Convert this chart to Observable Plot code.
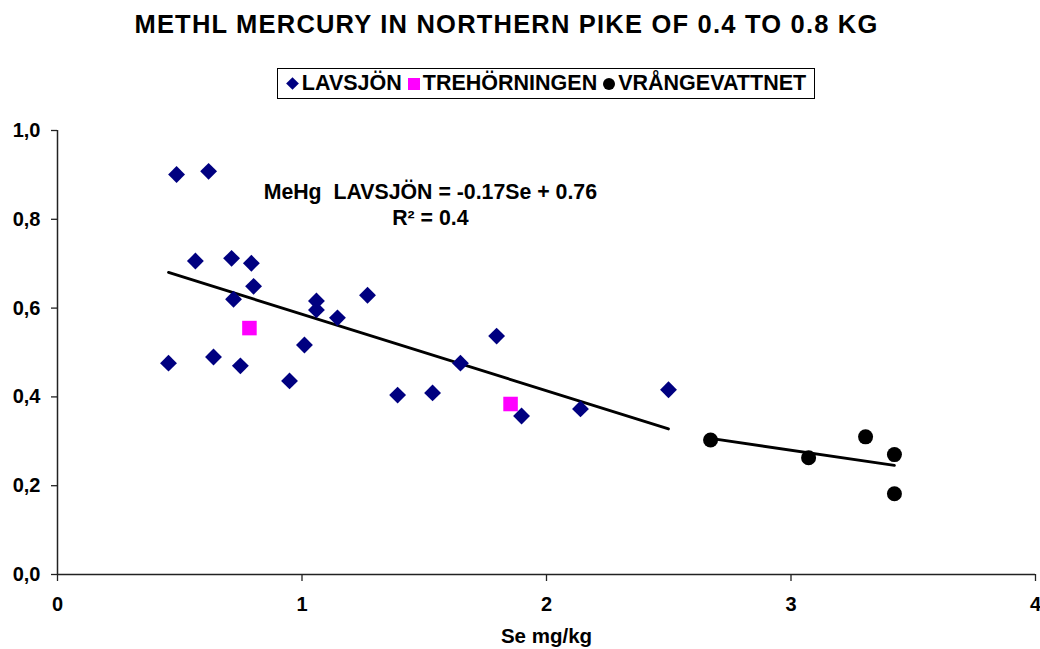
<!DOCTYPE html>
<html>
<head>
<meta charset="utf-8">
<script src="https://cdn.jsdelivr.net/npm/d3@7"></script>
<script src="https://cdn.jsdelivr.net/npm/@observablehq/plot@0.6"></script>
<style>
  html, body { margin: 0; padding: 0; background: #fff; }
  body { width: 1040px; height: 649px; position: relative; overflow: hidden;
         font-family: "Liberation Sans", Arial, sans-serif; font-weight: bold; color: #000; }
  #title { position: absolute; left: 0; top: 12px; width: 1013px; text-align: center;
           font-size: 25.5px; line-height: 25px; letter-spacing: 1.2px; white-space: nowrap; }
  #legend { position: absolute; left: 277px; top: 68px; width: 538px; height: 31px; box-sizing: border-box;
            border: 1.5px solid #000; display: flex; align-items: center; justify-content: center;
            font-size: 21.5px; white-space: nowrap; }
  #legend .item { display: flex; align-items: center; margin: 0 3px; }
  #legend .sym { display: inline-block; margin-right: 3px; }
  #legend .diamond { width: 9px; height: 9px; background: #000080; transform: rotate(45deg); margin-left: 2px; margin-right: 5px; }
  #legend .square { width: 12px; height: 12px; background: #ff00ff; }
  #legend .circle { width: 12px; height: 12px; background: #000; border-radius: 50%; }
  #chart { position: absolute; left: 0; top: 110px; }
</style>
</head>
<body>
<div id="title"></div>
<div id="legend"></div>
<div id="chart"></div>
<script>
// ---- data ----
const titleText = "METHL MERCURY IN NORTHERN PIKE OF 0.4 TO 0.8 KG";
const seriesNames = ["LAVSJÖN", "TREHÖRNINGEN", "VRÅNGEVATTNET"];
const xLabel = "Se mg/kg";
const annotation = "MeHg\u00a0 LAVSJÖN = -0.17Se + 0.76\nR² = 0.4";

const xTicks = [0, 1, 2, 3, 4];
const yTicks = [0, 0.2, 0.4, 0.6, 0.8, 1.0];

const lavsjonSe   = [0.487, 0.618, 0.564, 0.712, 0.793, 0.802, 0.720, 1.059, 1.059, 1.145, 1.268, 1.010,
                     0.454, 0.638, 0.748, 0.949, 1.391, 1.534, 1.648, 1.796, 1.898, 2.139, 2.499];
const lavsjonMeHg = [0.901, 0.908, 0.706, 0.712, 0.701, 0.649, 0.620, 0.616, 0.596, 0.578, 0.629, 0.517,
                     0.476, 0.490, 0.470, 0.436, 0.404, 0.409, 0.476, 0.537, 0.357, 0.373, 0.416];

const trehorningenSe   = [0.785, 1.853];
const trehorningenMeHg = [0.555, 0.384];

const vrangevattnetSe   = [2.671, 3.072, 3.305, 3.423, 3.423];
const vrangevattnetMeHg = [0.303, 0.263, 0.310, 0.270, 0.182];

// ---- build tables ----
const toRows = (xs, ys) => xs.map((x, i) => ({x, y: ys[i]}));
const lav = toRows(lavsjonSe, lavsjonMeHg);
const tre = toRows(trehorningenSe, trehorningenMeHg);
const vra = toRows(vrangevattnetSe, vrangevattnetMeHg);

// ---- title & legend ----
document.getElementById("title").textContent = titleText;
const legend = document.getElementById("legend");
const symClasses = ["diamond", "square", "circle"];
seriesNames.forEach((name, i) => {
  const item = document.createElement("span");
  item.className = "item";
  const s = document.createElement("span");
  s.className = "sym " + symClasses[i];
  const t = document.createElement("span");
  t.textContent = name;
  item.appendChild(s); item.appendChild(t);
  legend.appendChild(item);
});

// ---- chart ----
const chart = Plot.plot({
  width: 1040,
  height: 539,
  marginTop: 20,
  marginBottom: 75,
  marginLeft: 57,
  marginRight: 5,
  style: {fontFamily: '"Liberation Sans", Arial, sans-serif', fontWeight: "bold", fontSize: "20px", color: "#000", background: "#fff"},
  x: {domain: [0, 4]},
  y: {domain: [0, 1]},
  marks: [
    Plot.axisY({ticks: yTicks, tickSize: 6, tickPadding: 11, tickFormat: d => d.toFixed(1).replace(".", ","),
                label: null, fontSize: 20, fontWeight: "bold", stroke: "#222", strokeWidth: 1.3}),
    Plot.axisX({ticks: xTicks, tickSize: 7, tickPadding: 15, tickFormat: d => String(d),
                label: null, fontSize: 20, fontWeight: "bold", stroke: "#222", strokeWidth: 1.3}),
    Plot.ruleX([0], {stroke: "#222", strokeWidth: 1.5}),
    Plot.ruleY([0], {stroke: "#222", strokeWidth: 1.5}),
    Plot.linearRegressionY(lav, {x: "x", y: "y", ci: 0, stroke: "#000", strokeWidth: 2.8}),
    Plot.linearRegressionY(vra, {x: "x", y: "y", ci: 0, stroke: "#000", strokeWidth: 2.8}),
    Plot.dot(lav, {x: "x", y: "y", symbol: "diamond2", r: 7.6, fill: "#000080"}),
    Plot.dot(tre, {x: "x", y: "y", symbol: "square", r: 8.2, fill: "#ff00ff"}),
    Plot.dot(vra, {x: "x", y: "y", symbol: "circle", r: 7.5, fill: "#000"}),
    Plot.text([annotation], {x: 1.525, y: 0.836, text: d => d, fontSize: 21.3, fontWeight: "bold", lineHeight: 1.22, fill: "#000"}),
    Plot.text([xLabel], {frameAnchor: "bottom", dy: 68, text: d => d, fontSize: 20.5, fontWeight: "bold", fill: "#000"})
  ]
});
document.getElementById("chart").appendChild(chart);
</script>
</body>
</html>
